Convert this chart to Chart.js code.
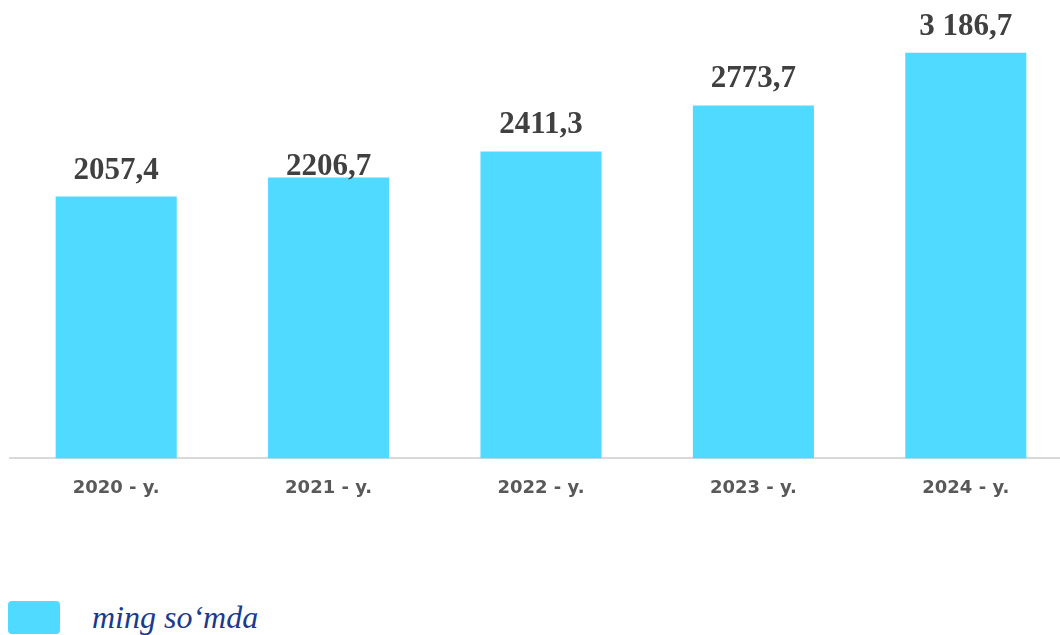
<!DOCTYPE html>
<html>
<head>
<meta charset="utf-8">
<script src="https://cdn.jsdelivr.net/npm/chart.js"></script>
<style>
  html, body { margin: 0; padding: 0; background: #fff; }
  body { width: 1060px; height: 635px; overflow: hidden; position: relative; }
  #chart-container { position: absolute; left: 0; top: 0; width: 1072px; height: 510px; }
  #legend { position: absolute; left: 8px; top: 599px; display: flex; align-items: center; }
  #legend .box { width: 52px; height: 33px; border-radius: 4px; background: #50DAFF; }
  #legend .txt { margin-left: 32px; font-family: "Liberation Serif", serif; font-style: italic; font-size: 32px; color: #1b3a8c; }
</style>
</head>
<body>
<div id="chart-container">
  <canvas id="myChart"></canvas>
</div>
<div id="legend"><div class="box"></div><div class="txt">ming so‘mda</div></div>
<script>
const years = ['2020 - y.', '2021 - y.', '2022 - y.', '2023 - y.', '2024 - y.'];
const values = [2057.4, 2206.7, 2411.3, 2773.7, 3186.7];
const valueLabels = ['2057,4', '2206,7', '2411,3', '2773,7', '3 186,7'];

// gap between bar top and label baseline (the 2021 label sits low in the original)
const labelGaps = [18, 3, 19, 18, 18];

const barLabels = {
    id: 'barLabels',
    afterDatasetsDraw(chart) {
        const ctx = chart.ctx;
        const meta = chart.getDatasetMeta(0);
        ctx.save();
        ctx.font = 'bold 31px "Liberation Serif", serif';
        ctx.fillStyle = '#404040';
        ctx.textAlign = 'center';
        ctx.textBaseline = 'alphabetic';
        meta.data.forEach((bar, i) => {
            ctx.fillText(valueLabels[i], bar.x, bar.y - labelGaps[i]);
        });
        ctx.restore();
    }
};

const config = {
    type: 'bar',
    data: {
        labels: years,
        datasets: [{
            label: 'ming so‘mda',
            data: values,
            backgroundColor: '#50DAFF',
            categoryPercentage: 1,
            barPercentage: 0.57
        }]
    },
    options: {
        responsive: true,
        maintainAspectRatio: false,
        animation: false,
        layout: { padding: { left: 10, right: 0, top: 13, bottom: 0 } },
        plugins: {
            legend: { display: false },
            tooltip: { enabled: false }
        },
        scales: {
            x: {
                grid: { display: false },
                border: { display: true, color: '#d9d9d9', width: 2 },
                ticks: {
                    color: '#595959',
                    padding: 11,
                    font: { family: '"DejaVu Sans", sans-serif', size: 18, weight: 'bold' }
                }
            },
            y: {
                display: false,
                min: 0,
                max: 3500
            }
        }
    },
    plugins: [barLabels]
};

new Chart(document.getElementById('myChart').getContext('2d'), config);
</script>
</body>
</html>
